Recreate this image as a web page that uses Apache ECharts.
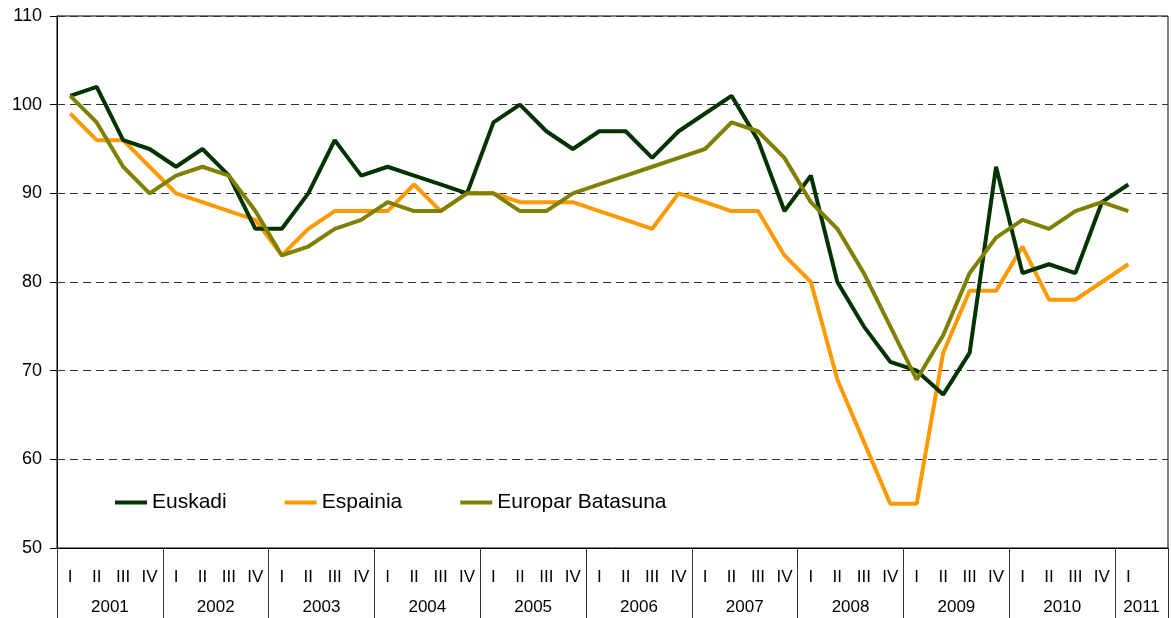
<!DOCTYPE html>
<html>
<head>
<meta charset="utf-8">
<script src="https://cdn.jsdelivr.net/npm/echarts@6/dist/echarts.min.js"></script>
<style>
html, body { margin: 0; padding: 0; background: #fff; }
#chart { width: 1171px; height: 618px; }
</style>
</head>
<body>
<div id="chart"></div>
<script>
// quarters 2001 I .. 2011 I (2011 II left empty)
var quarters = [];
for (var y = 0; y < 10; y++) quarters.push("I", "II", "III", "IV");
quarters.push("I", "");

// year labels sit on the boundaries between quarters (43 slots)
var years = ["2001", "2002", "2003", "2004", "2005", "2006", "2007", "2008", "2009", "2010"];
var yearSlots = [];
for (var i = 0; i <= 42; i++) yearSlots.push("");
years.forEach(function (yr, k) { yearSlots[k * 4 + 2] = yr; });
yearSlots[41] = "2011";

var euskadi = [101, 102, 96, 95, 93, 95, 92, 86, 86, 90, 96, 92, 93, 92, 91, 90,
    98, 100, 97, 95, 97, 97, 94, 97, 99, 101, 96, 88, 92, 80, 75, 71,
    70, 67.3, 72, 93, 81, 82, 81, 89, 91, null];
var espainia = [99, 96, 96, 93, 90, 89, 88, 87, 83, 86, 88, 88, 88, 91, 88, 90,
    90, 89, 89, 89, 88, 87, 86, 90, 89, 88, 88, 83, 80, 69, 62, 55,
    55, 72, 79, 79, 84, 78, 78, 80, 82, null];
var europar = [101, 98, 93, 90, 92, 93, 92, 88, 83, 84, 86, 87, 89, 88, 88, 90,
    90, 88, 88, 90, 91, 92, 93, 94, 95, 98, 97, 94, 89, 86, 81, 75,
    69, 74, 81, 85, 87, 86, 88, 89, 88, null];

var font = "Liberation Sans, Arial, sans-serif";

var chart = echarts.init(document.getElementById("chart"));
chart.setOption({
    animation: false,
    grid: {
        left: 57,
        right: 2,
        top: 16,
        bottom: 70,
        show: true,
        borderColor: "#000",
        borderWidth: 1
    },
    legend: {
        left: 110,
        top: 487,
        icon: "rect",
        itemWidth: 32,
        itemHeight: 4,
        itemGap: 58,
        textStyle: { fontFamily: font, fontSize: 21, color: "#000" },
        data: ["Euskadi", "Espainia", "Europar Batasuna"]
    },
    xAxis: [
        {
            type: "category",
            data: quarters,
            position: "bottom",
            axisLine: { lineStyle: { color: "#000", width: 1 } },
            axisTick: { show: false },
            axisLabel: {
                interval: 0,
                margin: 21,
                fontFamily: font,
                fontSize: 17,
                color: "#000"
            }
        },
        {
            type: "category",
            data: yearSlots,
            boundaryGap: false,
            position: "bottom",
            axisLine: { show: false },
            axisTick: {
                show: true,
                length: 70,
                interval: function (index) {
                    return index % 4 === 0 || index === 42;
                },
                lineStyle: { color: "#333" }
            },
            axisLabel: {
                interval: 0,
                margin: 51,
                fontFamily: font,
                fontSize: 17,
                color: "#000"
            }
        }
    ],
    yAxis: {
        type: "value",
        min: 50,
        max: 110,
        interval: 10,
        axisLine: { show: true, lineStyle: { color: "#000" } },
        axisTick: { show: true, length: 7, lineStyle: { color: "#000" } },
        axisLabel: { margin: 15, fontFamily: font, fontSize: 18, color: "#000" },
        splitLine: {
            show: true,
            lineStyle: { color: "#333", type: [8, 5], width: 1 }
        }
    },
    series: [
        {
            name: "Euskadi",
            type: "line",
            data: euskadi,
            symbol: "none",
            color: "#003300",
            lineStyle: { width: 4, color: "#003300" },
            z: 3
        },
        {
            name: "Espainia",
            type: "line",
            data: espainia,
            symbol: "none",
            color: "#ff9900",
            lineStyle: { width: 4, color: "#ff9900" },
            z: 2
        },
        {
            name: "Europar Batasuna",
            type: "line",
            data: europar,
            symbol: "none",
            color: "#808000",
            lineStyle: { width: 4, color: "#808000" },
            z: 4
        }
    ]
});
</script>
</body>
</html>
